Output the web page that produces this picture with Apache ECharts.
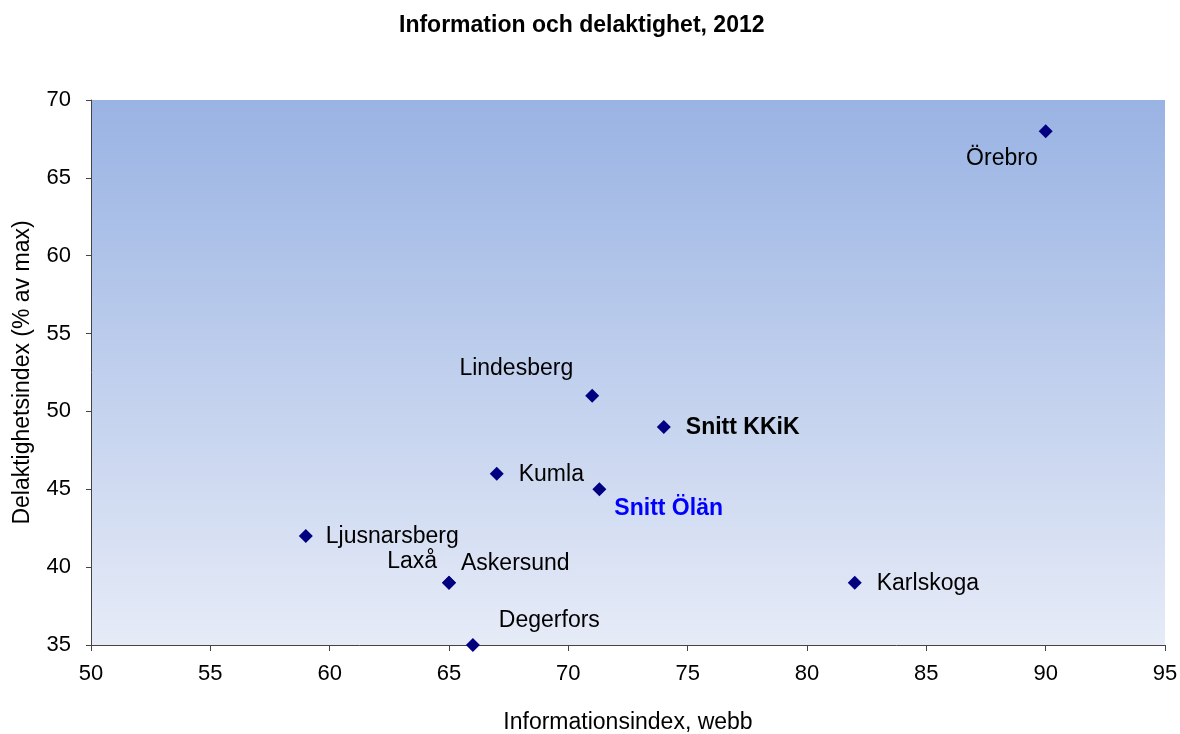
<!DOCTYPE html>
<html>
<head>
<meta charset="utf-8">
<script src="https://cdn.jsdelivr.net/npm/echarts@6/dist/echarts.min.js"></script>
<style>
  html, body { margin: 0; padding: 0; background: #fff; }
  #chart { width: 1180px; height: 734px; }
</style>
</head>
<body>
<div id="chart"></div>
<script>
// Kommuner och värden (x = Informationsindex, y = Delaktighetsindex)
var names = ['Örebro', 'Lindesberg', 'Snitt KKiK', 'Kumla', 'Snitt Ölän', 'Ljusnarsberg', 'Laxå', 'Askersund', 'Karlskoga', 'Degerfors'];
var infoIndex = [90, 71, 74, 67, 71.3, 59, 65, 65, 82, 66];
var delaktighet = [68, 51, 49, 46, 45, 42, 39, 39, 39, 35];

// label placement per point (styles only)
var labelPos = {
  'Örebro':       { position: 'left', distance: 1, offset: [0, 28] },
  'Lindesberg':   { position: 'left', distance: 12, offset: [0, -27] },
  'Snitt KKiK':   { position: 'right', distance: 15, offset: [0, 1], fontWeight: 'bold' },
  'Kumla':        { position: 'right', distance: 15, offset: [0, 1] },
  'Snitt Ölän':   { position: 'right', distance: 8, offset: [0, 19], fontWeight: 'bold', color: '#0000ff' },
  'Ljusnarsberg': { position: 'right', distance: 13, offset: [0, 1] },
  'Laxå':         { position: 'left', distance: 5, offset: [0, -21] },
  'Askersund':    { position: 'right', distance: 5, offset: [0, -19] },
  'Karlskoga':    { position: 'right', distance: 15, offset: [0, 1] },
  'Degerfors':    { position: 'right', distance: 19, offset: [0, -24] }
};

var points = names.map(function(n, i) {
  var lp = labelPos[n];
  return {
    name: n,
    value: [infoIndex[i], delaktighet[i]],
    label: {
      show: true,
      formatter: n,
      position: lp.position,
      distance: lp.distance,
      offset: lp.offset,
      fontWeight: lp.fontWeight || 'normal',
      color: lp.color || '#000'
    }
  };
});

var chart = echarts.init(document.getElementById('chart'), null, { renderer: 'canvas' });
var font = 'Liberation Sans, Arial, sans-serif';
chart.setOption({
  animation: false,
  textStyle: { fontFamily: font },
  title: {
    text: 'Information och delaktighet, 2012',
    left: 394,
    top: 9,
    textStyle: { fontFamily: font, fontSize: 23, fontWeight: 'bold', color: '#000' }
  },
  grid: {
    left: 91, right: 15, top: 100, bottom: 89,
    outerBoundsMode: 'none',
    show: true,
    borderWidth: 0,
    backgroundColor: {
      type: 'linear', x: 0, y: 0, x2: 0, y2: 1,
      colorStops: [
        { offset: 0, color: '#99b3e3' },
        { offset: 1, color: '#e6ebf7' }
      ]
    }
  },
  xAxis: {
    type: 'value',
    min: 50, max: 95, interval: 5,
    name: 'Informationsindex, webb',
    nameLocation: 'middle',
    nameGap: 66,
    nameTextStyle: { fontFamily: font, fontSize: 23, color: '#000' },
    axisLine: { onZero: false, lineStyle: { color: '#444', width: 1 } },
    axisTick: { show: true, inside: false, length: 6, lineStyle: { color: '#444' } },
    axisLabel: { fontFamily: font, fontSize: 22, color: '#000', margin: 18 },
    splitLine: { show: false }
  },
  yAxis: {
    type: 'value',
    min: 35, max: 70, interval: 5,
    name: 'Delaktighetsindex (% av max)',
    nameLocation: 'middle',
    nameGap: 57,
    nameTextStyle: { fontFamily: font, fontSize: 23, color: '#000' },
    axisLine: { show: true, onZero: false, lineStyle: { color: '#444', width: 1 } },
    axisTick: { show: true, inside: false, length: 5, lineStyle: { color: '#444' } },
    axisLabel: { fontFamily: font, fontSize: 22, color: '#000', margin: 20 },
    splitLine: { show: false }
  },
  series: [{
    type: 'scatter',
    symbol: 'diamond',
    symbolSize: 14,
    itemStyle: { color: '#000080', opacity: 1 },
    label: { fontFamily: font, fontSize: 23 },
    data: points
  }]
});
</script>
</body>
</html>
